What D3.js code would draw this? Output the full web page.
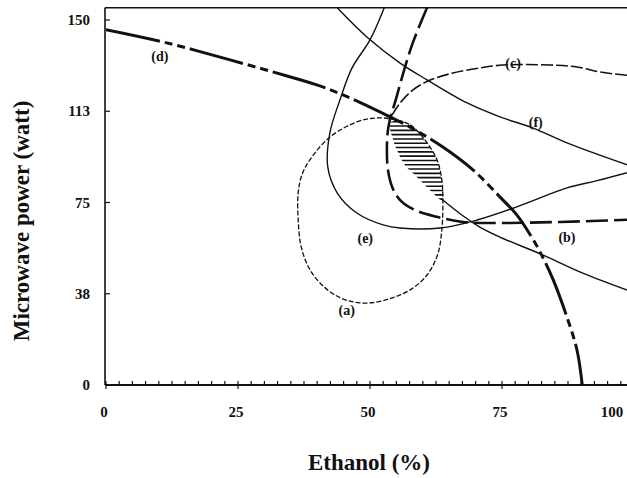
<!DOCTYPE html>
<html><head><meta charset="utf-8">
<script src="https://cdn.jsdelivr.net/npm/d3@7"></script>
<style>body{margin:0;background:#fff;overflow:hidden}</style>
</head><body>
<script>
// ---- data (Ethanol %, Microwave power W) ----
const xMajorTicks = [0, 25, 50, 75, 100];
const xTickLabels = ["0", "25", "50", "75", "100"];
const yTickValues = [0, 37.5, 75, 112.5, 150];
const yTickLabels = ["0", "38", "75", "113", "150"];

const curveA = [[54.2,109.3],[57.6,106.9],[60.4,100.7],[62.7,92.5],[63.6,84.3],[63.8,76.0],[63.6,63.7],[62.8,53.5],[60.8,45.2],[57.9,39.5],[54.2,35.8],[50.4,33.8],[47.2,34.0],[44.3,35.9],[41.2,40.5],[38.6,47.5],[37.0,56.5],[36.4,67.8],[36.4,78.9],[37.1,86.3],[38.6,92.5],[42.4,101.9],[47.5,108.1],[50.9,109.7]];
const curveB = [[60.8,155],[58.1,140.6],[56.3,128.2],[54.7,115.9],[54.0,111.0],[53.4,104.8],[53.2,96.6],[53.4,88.4],[54.2,81.4],[55.7,76.0],[58.5,71.9],[62.7,69.1],[67.6,67.0],[74.6,66.6],[86.0,67.0],[100,68]];
const curveC = [[54.2,111.0],[55.7,115.9],[58.1,121.2],[61.4,125.3],[65.7,128.2],[70.8,130.3],[75.2,131.5],[84.1,131.5],[89.2,130.7],[93.6,128.6],[100,127]];
const curveD = [[0,146],[11.5,140.6],[23.5,133.6],[34.3,127.0],[40.5,122.9],[46.2,118.0],[53.8,110.2],[57.6,106.0],[63.8,97.8],[69.5,88.4],[74.6,77.3],[77.8,69.9],[80.5,61.2],[82.2,54.7],[84.7,43.2],[87.3,27.9],[89.2,14.4],[90.2,0]];
const curveE = [[52.7,155],[50.0,141.8],[46.6,130.3],[44.3,117.1],[42.4,103.6],[42.0,89.6],[43.8,78.9],[47.5,70.7],[52.5,65.8],[55.7,64.5],[63.3,64.5],[70.3,67.8],[77.8,73.2],[87.3,81.0],[93.0,84.0],[100,88]];
const curveF = [[43.8,155],[49.4,143.0],[55.7,132.3],[60.8,125.4],[68.4,115.9],[74.6,110.2],[80.9,105.6],[87.3,99.5],[100,89.5]];
const curveG = [[63.8,76.0],[67.0,70.5],[70.8,64.9],[74.6,60.8],[82.8,53.4],[90.3,46.0],[100,38]];
const hatchLeft = [[53.8,107.7],[54.4,100.7],[55.1,96.6],[56.6,90.4],[58.1,87.1],[60.4,82.2],[62.3,78.1],[63.4,76.0]];
const hatchRight = [[63.8,76.0],[63.6,84.3],[62.7,92.5],[60.4,100.7],[57.6,106.9],[55.2,108.6]];

const curveLabels = ["(a)","(b)","(c)","(d)","(e)","(f)"];
const labelX = [45.6, 87.3, 77.1, 10.2, 49.1, 81.4];
const labelY = [30.8, 60.8, 132.3, 135.2, 60.4, 108.1];

// ---- layout ----
const W = 627, H = 478;
const x = d3.scaleLinear().domain([0, 100]).range([106, 634]);
const y = d3.scaleLinear().domain([0, 150]).range([385, 20]);
const yTop = 155;
const FONT = "'Liberation Serif','Times New Roman',serif";

const svg = d3.select("body").append("svg").attr("width", W).attr("height", H)
  .style("background", "#fff");

const defs = svg.append("defs");
defs.append("clipPath").attr("id", "plot")
  .append("rect").attr("x", x(0)).attr("y", y(yTop)).attr("width", x(100) - x(0)).attr("height", y(0) - y(yTop));

const lens = hatchLeft.concat(hatchRight);
const lensPath = d3.line().x(d => x(d[0])).y(d => y(d[1])).curve(d3.curveCatmullRomClosed.alpha(0.5));
defs.append("clipPath").attr("id", "lens").append("path").attr("d", lensPath(lens));

const g = svg.append("g").attr("clip-path", "url(#plot)");

// hatch
const lx = d3.extent(lens, d => x(d[0])), ly = d3.extent(lens, d => y(d[1]));
const hatch = g.append("g").attr("clip-path", "url(#lens)");
hatch.selectAll("line").data(d3.range(ly[0] + 1, ly[1], 4.3)).join("line")
  .attr("x1", lx[0] - 2).attr("x2", lx[1] + 2).attr("y1", d => d).attr("y2", d => d)
  .attr("stroke", "#111").attr("stroke-width", 1.6);

const line = d3.line().x(d => x(d[0])).y(d => y(d[1])).curve(d3.curveCatmullRom.alpha(0.5));
const closed = d3.line().x(d => x(d[0])).y(d => y(d[1])).curve(d3.curveCatmullRomClosed.alpha(0.5));

const series = [
  {data: curveA, closed: true, w: 1.3, dash: "5,2"},
  {data: curveE, w: 1.4, dash: null},
  {data: curveF, w: 1.4, dash: null},
  {data: curveG, w: 1.4, dash: null},
  {data: curveC, w: 1.6, dash: "12,3"},
  {data: curveB, w: 2.6, dash: "22,6"},
  {data: curveD, w: 3, dash: "55,5,8,5,8,5"}
];
g.selectAll("path.s").data(series).join("path").attr("class", "s")
  .attr("d", d => d.closed ? closed(d.data) : line(d.data))
  .attr("fill", "none").attr("stroke", "#111")
  .attr("stroke-width", d => d.w)
  .attr("stroke-dasharray", d => d.dash)
  .attr("stroke-linecap", "butt");

// frame
const frame = svg.append("g").attr("stroke", "#111").attr("fill", "none");
frame.append("line").attr("x1", x(0) - 1).attr("x2", W).attr("y1", y(yTop)).attr("y2", y(yTop)).attr("stroke-width", 1.5);
frame.append("line").attr("x1", x(0) - 1).attr("x2", x(0) - 1).attr("y1", y(yTop)).attr("y2", y(0)).attr("stroke-width", 1.6);
frame.append("line").attr("x1", x(0) - 1).attr("x2", W).attr("y1", y(0)).attr("y2", y(0)).attr("stroke-width", 2);

// x ticks
const minor = d3.range(0, 100.01, 2.5);
frame.selectAll("line.xt").data(minor).join("line").attr("class", "xt")
  .attr("x1", d => x(d)).attr("x2", d => x(d))
  .attr("y1", y(0) - 4)
  .attr("y2", d => (d % 25 === 0) ? y(0) + 4 : y(0))
  .attr("stroke-width", 1.2);
// y ticks
frame.selectAll("line.yt").data(yTickValues).join("line").attr("class", "yt")
  .attr("x1", x(0) - 1).attr("x2", x(0) + 4)
  .attr("y1", d => y(d)).attr("y2", d => y(d)).attr("stroke-width", 1.2);

const txt = svg.append("g").attr("font-family", FONT).attr("font-weight", "bold").attr("fill", "#111");

txt.selectAll("text.xl").data(xMajorTicks).join("text").attr("class", "xl")
  .attr("x", d => Math.min(x(d) - 2, 612)).attr("y", 417)
  .attr("text-anchor", "middle").attr("font-size", 15)
  .text((d, i) => xTickLabels[i]);

txt.selectAll("text.yl").data(yTickValues).join("text").attr("class", "yl")
  .attr("x", 90).attr("y", d => y(d) + 5)
  .attr("text-anchor", "end").attr("font-size", 15)
  .text((d, i) => yTickLabels[i]);

txt.selectAll("text.cl").data(curveLabels).join("text").attr("class", "cl")
  .attr("x", (d, i) => x(labelX[i])).attr("y", (d, i) => y(labelY[i]) + 5)
  .attr("text-anchor", "middle").attr("font-size", 14)
  .text(d => d);

txt.append("text").attr("x", 369).attr("y", 470).attr("text-anchor", "middle")
  .attr("font-size", 23).text("Ethanol (%)");
txt.append("text").attr("transform", "translate(29,221) rotate(-90)")
  .attr("text-anchor", "middle").attr("font-size", 23).text("Microwave power (watt)");
</script>
</body></html>
